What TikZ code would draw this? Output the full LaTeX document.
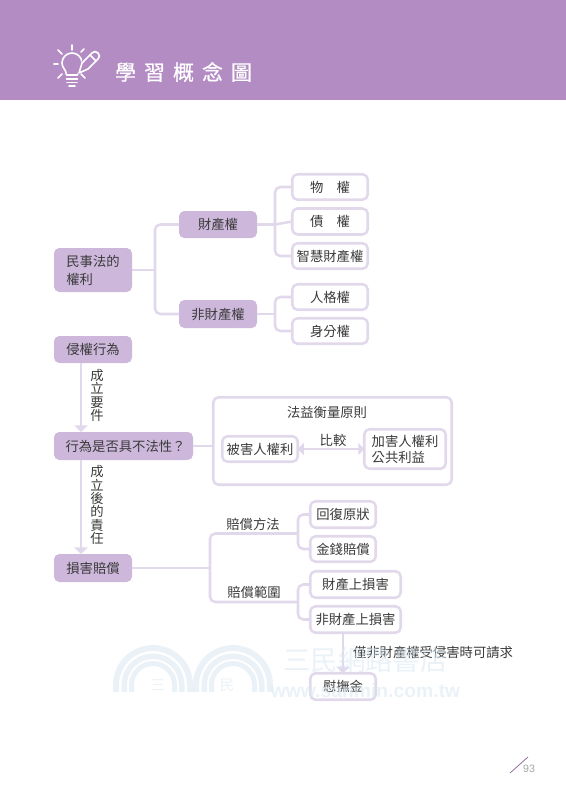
\documentclass[tikz,border=0pt]{standalone}
\usepackage{fontspec}
\setmainfont{Noto Sans CJK TC}
\newfontfamily\latinsans{Liberation Sans}
\newfontfamily\titlefont[FakeBold=0.6]{Noto Sans CJK TC}
\usetikzlibrary{arrows.meta}
\definecolor{headcol}{HTML}{B48CC4}
\definecolor{boxfill}{HTML}{CDB8DC}
\definecolor{linecol}{HTML}{E2D8EC}
\definecolor{inkcol}{HTML}{3A3A3A}
\definecolor{wmcol}{HTML}{DCE9F3}
\tikzset{
  bsize/.style 2 args={minimum width=#1*0.75pt,minimum height=#2*0.75pt},
  base/.style={inner sep=0pt,outer sep=0pt,rounded corners=4pt,text=inkcol,font=\fontsize{10}{14}\selectfont,align=center},
  solidbox/.style={base,fill=boxfill},
  linebox/.style={base,draw=linecol,line width=1.9pt,fill=white},
  plain/.style={inner sep=0pt,outer sep=0pt,text=inkcol,font=\fontsize{10}{14}\selectfont,align=center},
  vtext/.style={inner sep=0pt,outer sep=0pt,text=inkcol,font=\fontsize{10}{10}\selectfont,align=center},
  conn/.style={draw=linecol,line width=1.9pt,rounded corners=4pt},
  arrowconn/.style={draw=linecol,line width=1.9pt,-{Triangle[width=10pt,length=5pt]}},
  dblconn/.style={draw=linecol,line width=1.9pt,{Triangle[width=9pt,length=4.5pt]}-{Triangle[width=9pt,length=4.5pt]}},
  iconline/.style={draw=white,line width=1.2pt,line cap=round,line join=round},
}
\begin{document}
\begin{tikzpicture}[x=0.75pt,y=-0.75pt]
\useasboundingbox (0,0) rectangle (566,800);
\fill[headcol] (0,0) rectangle (566,100);
% icon
\draw[iconline] (66.5,75) .. controls (66,69) and (62,68) .. (62,63) arc[start angle=180,end angle=360,radius=10] .. controls (82,68) and (78,69) .. (77.5,75) -- cycle;
\draw[iconline] (66.5,79) -- (77.5,79) (67,82.5) -- (77,82.5) (69,86) -- (75,86);
\draw[iconline] (72,45) -- (72,50) (54,64) -- (58,64) (58,50) -- (62,54) (84,49) -- (81,52) (58,78) -- (62,74) (85,78) -- (81,74);
\draw[headcol,line width=3pt,line cap=round] (79,72) -- (84,61) -- (93,52);
\draw[iconline,fill=headcol] (79,73) -- (82,63) -- (92,53) .. controls (94,51) and (96,51) .. (98,53) .. controls (100,55) and (100,57) .. (98,59) -- (88,69) -- cycle;
\draw[iconline] (90,55) -- (96,61);
% title
\node[inner sep=0pt,text=white,font=\titlefont\fontsize{15.75}{18}\selectfont] (title) at (183.5,72) {學\hspace{6pt}習\hspace{6pt}概\hspace{6pt}念\hspace{6pt}圖};
% first tree
\node[solidbox,bsize={78}{44}] (root) at (93,270) {\makebox[40pt][l]{民事法的}\\[-0.5pt]\makebox[40pt][l]{權利}};
\node[solidbox,bsize={78}{27}] (cai) at (218,224.5) {財產權};
\node[solidbox,bsize={78}{28}] (fei) at (218,314) {非財產權};
\node[linebox,bsize={75.5}{25.5}] (wu) at (330,187) {物　權};
\node[linebox,bsize={75.5}{26}] (zhai) at (330,221.5) {債　權};
\node[linebox,bsize={75.5}{25.5}] (zhi) at (330,256) {智慧財產權};
\node[linebox,bsize={75.5}{25.5}] (ren) at (330,297) {人格權};
\node[linebox,bsize={75.5}{25.5}] (shen) at (330,331) {身分權};
\coordinate (j1) at (155,270);
\coordinate (j2) at (275,224.5);
\coordinate (j3) at (275,314);
\draw[conn] (root.east) -- (j1);
\draw[conn] (cai.west) -| (j1) |- (fei.west);
\draw[conn] (cai.east) -- (j2);
\draw[conn] (wu.west) -| (j2) |- (zhi.west);
\draw[conn] (zhai.west) -- (j2);
\draw[conn] (fei.east) -- (j3);
\draw[conn] (ren.west) -| (j3) |- (shen.west);
% second part
\node[solidbox,bsize={78}{27}] (qin) at (93,349.5) {侵權行為};
\node[solidbox,bsize={139}{28}] (xing) at (123.5,446) {\hspace{3pt}行為是否具不法性？};
\node[solidbox,bsize={78}{28}] (sun) at (93,568) {損害賠償};
\draw[arrowconn] (qin.south -| 81,0) -- (xing.north -| 81,0);
\draw[arrowconn] (xing.south -| 81,0) -- (sun.north -| 81,0);
\node[vtext] (l1) at (97,395.5) {成\\立\\要\\件};
\node[vtext] (l2) at (97,505) {成\\立\\後\\的\\責\\任};
\node[linebox,bsize={238.5}{87.5}] (frame) at (332.5,441) {};
\draw[conn] (xing.east) -- (frame.west |- xing.east);
\node[plain] (fatit) at (327,412) {法益衡量原則};
\node[linebox,bsize={75.5}{25.5}] (bei) at (260,449) {被害人權利};
\node[linebox,bsize={81.5}{39.5}] (jia) at (405,449) {\makebox[50pt][l]{加害人權利}\\[-2pt]\makebox[50pt][l]{公共利益}};
\draw[dblconn] (bei.east) -- (jia.west |- bei.east);
\node[plain] (bi) at (333,440) {比較};
% third part
\coordinate (k1) at (210,568);
\coordinate (k2a) at (298,533.5);
\coordinate (k2b) at (298,602);
\node[linebox,bsize={65.5}{26.5}] (hui) at (343,514.5) {回復原狀};
\node[linebox,bsize={65.5}{25.5}] (jin) at (343,549) {金錢賠償};
\node[linebox,bsize={90.5}{26.5}] (cs) at (355.5,584.5) {財產上損害};
\node[linebox,bsize={90.5}{26.5}] (fs) at (355.5,619.5) {非財產上損害};
\node[linebox,bsize={65.5}{26.5}] (wei) at (343,686.5) {慰撫金};
\draw[conn] (sun.east) -- (k1);
\draw[conn] (k2a) -| (k1) |- (k2b);
\draw[conn] (hui.west) -| (k2a) |- (jin.west);
\draw[conn] (cs.west) -| (k2b) |- (fs.west);
\node[plain] (fa) at (253,524) {賠償方法};
\node[plain] (fw) at (254,592) {賠償範圍};
\draw[arrowconn] (fs.south -| wei.north) -- (wei.north);
\node[plain,anchor=west] (jn) at (353,652) {僅非財產權受侵害時可請求};
% page number
\coordinate (sl1) at (510,773);
\coordinate (sl2) at (528,757);
\draw[draw=headcol!80!black,line width=0.6pt] (sl1) -- (sl2);
\node[inner sep=0pt,text=black!35,font=\latinsans\fontsize{8}{9}\selectfont] (pg) at (529,769) {93};
% watermark
\begin{scope}[opacity=0.6]
\foreach \cx in {153,233}{
  \foreach \ro/\ri in {40/34,31.5/26,24/19}{
    \fill[wmcol] (\cx-\ro,692) -- (\cx-\ro,685) arc[start angle=180,end angle=360,radius=\ro] -- (\cx+\ro,692) -- (\cx+\ri,692) -- (\cx+\ri,685) arc[start angle=360,end angle=180,radius=\ri] -- (\cx-\ri,692) -- cycle;
  }
}
\node[inner sep=0pt,text=wmcol,font=\fontsize{11}{12}\selectfont] (wm1) at (158,685) {三};
\node[inner sep=0pt,text=wmcol,font=\fontsize{11}{12}\selectfont] (wm2) at (227,685) {民};
\node[inner sep=0pt,text=wmcol,font=\fontsize{20.6}{24}\selectfont] (wm3) at (365.5,660) {三民網路書店};
\node[inner sep=0pt,text=wmcol,font=\latinsans\bfseries\fontsize{14.5}{16}\selectfont] (wm4) at (365.5,691) {www.sanmin.com.tw};
\end{scope}
\end{tikzpicture}
\end{document}
